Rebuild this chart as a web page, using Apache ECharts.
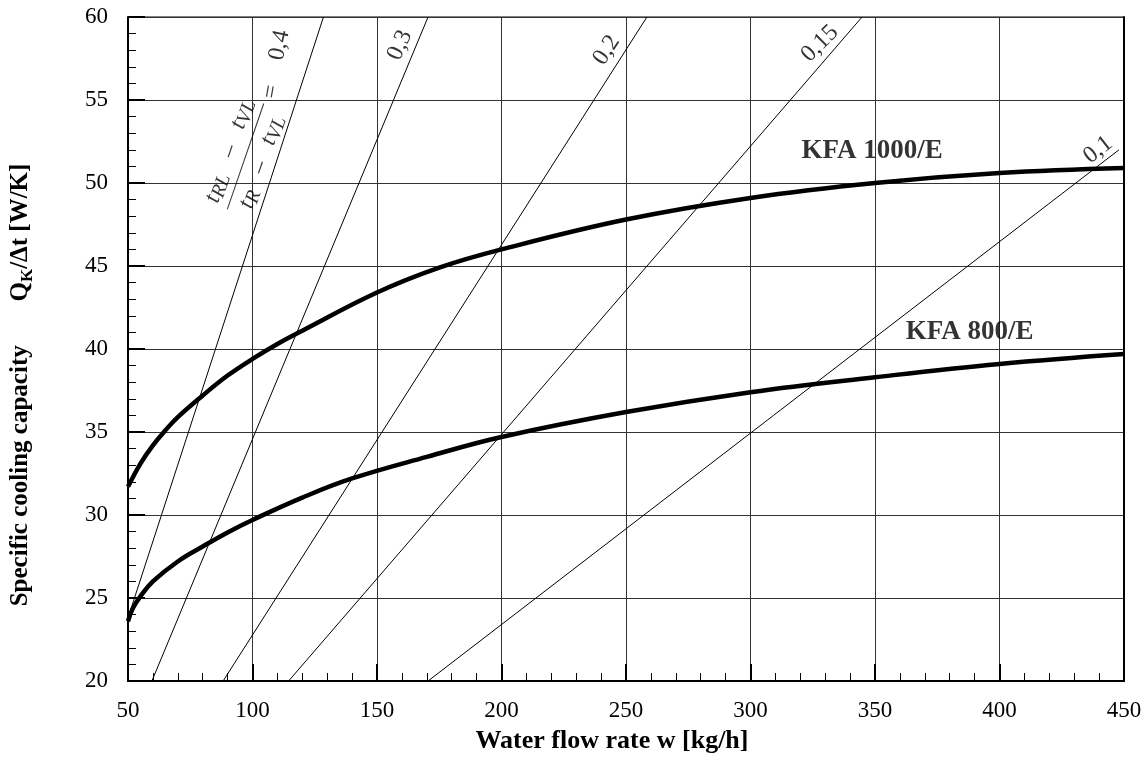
<!DOCTYPE html>
<html>
<head>
<meta charset="utf-8">
<script src="https://cdn.jsdelivr.net/npm/echarts@6/dist/echarts.min.js"></script>
<style>
html, body { margin: 0; padding: 0; background: #fff; }
#main { width: 1147px; height: 764px; }
</style>
</head>
<body>
<div id="main"></div>
<script>
// axis ticks
const xTicks = [50, 100, 150, 200, 250, 300, 350, 400, 450]
const yTicks = [20, 25, 30, 35, 40, 45, 50, 55, 60]

// KFA 1000/E, specific cooling capacity over water flow rate
const flow1000 = [50, 55, 60, 65, 70, 80, 90, 100, 110, 120, 150, 175, 200, 250, 300, 350, 400, 450]
const kfa1000 = [31.7, 33.1, 34.2, 35.1, 35.9, 37.2, 38.4, 39.4, 40.3, 41.1, 43.4, 44.9, 46.0, 47.8, 49.1, 50.0, 50.6, 50.9]

// KFA 800/E
const flow800 = [50, 52, 55, 60, 70, 80, 90, 100, 120, 140, 170, 200, 250, 300, 350, 400, 450]
const kfa800 = [23.6, 24.4, 25.1, 26.0, 27.2, 28.1, 28.95, 29.7, 31.05, 32.2, 33.5, 34.7, 36.2, 37.4, 38.3, 39.1, 39.7]

// (tRL - tVL)/(tR - tVL) lines, read where they enter and leave the plot
const ratioNames = ['0,4', '0,3', '0,2', '0,15', '0,1']
const ratioFrom = [[50, 23.8], [59.6, 20], [88.2, 20], [114.5, 20], [170.5, 20]]
const ratioTo = [[128.5, 60], [170.5, 60], [258.4, 60], [344.8, 60], [448, 52]]

const serif = 'Liberation Serif, Times New Roman, serif'

// where the texts sit, in data units, and how much they lean
const ratioLabelAt = [[110.8, 58.3], [159.2, 58.3], [242.2, 58.0], [327.9, 58.4], [439.6, 52.0]]
const ratioLabelTurn = [78, 66, 57, 45, 38]

const chart = echarts.init(document.getElementById('main'))

const lineSeries = ratioNames.map((name, i) => ({
  name: name,
  type: 'line',
  data: [ratioFrom[i], ratioTo[i]],
  symbol: 'none',
  silent: true,
  z: 3,
  lineStyle: { color: '#000', width: 1 }
}))

const curve = (xs, ys) => xs.map((x, i) => [x, ys[i]])

const textItem = (at, text, rotate, extra) => ({
  value: at,
  label: Object.assign({
    show: true,
    position: 'inside',
    formatter: text,
    rotate: rotate,
    color: '#000',
    fontFamily: serif,
    fontSize: 24
  }, extra || {})
})

const notes = ratioNames.map((n, i) => textItem(ratioLabelAt[i], n, ratioLabelTurn[i]))
notes.push(textItem([107.6, 55.5], '=', 80, { fontSize: 24 }))
notes.push(textItem([97.2, 51.6],
  '{t|t}{s|RL}{t|   \u2013   t}{s|VL}\n{bar| }\n{t|t}{s|R}{t|   \u2013   t}{s|VL}', 71, {
    rich: {
      t: { fontFamily: serif, fontStyle: 'italic', fontSize: 24, lineHeight: 28, verticalAlign: 'middle', color: '#000' },
      s: { fontFamily: serif, fontStyle: 'italic', fontSize: 20, lineHeight: 28, verticalAlign: 'bottom', color: '#000' },
      bar: { width: 112, height: 1, lineHeight: 6, backgroundColor: '#000' }
    }
  }))
notes.push(textItem([320.3 + 28.5, 51.9], 'KFA 1000/E', 0, { fontSize: 27, fontWeight: 'bold' }))
notes.push(textItem([362 + 26, 41.0], 'KFA 800/E', 0, { fontSize: 27, fontWeight: 'bold' }))

chart.setOption({
  animation: false,
  backgroundColor: '#fff',
  grid: {
    left: 128,
    right: 23,
    top: 17,
    bottom: 83,
    show: true,
    borderColor: '#000',
    borderWidth: 1
  },
  xAxis: {
    type: 'value',
    min: xTicks[0],
    max: xTicks[xTicks.length - 1],
    interval: xTicks[1] - xTicks[0],
    name: 'Water flow rate w [kg/h]',
    nameLocation: 'middle',
    nameGap: 47,
    nameTextStyle: { fontFamily: serif, fontSize: 26, fontWeight: 'bold', color: '#000', padding: [0, 28, 0, 0] },
    axisLine: { show: true, lineStyle: { color: '#000', width: 2 } },
    axisTick: { show: true, inside: true, length: 17, lineStyle: { color: '#000', width: 2 } },
    minorTick: { show: true, splitNumber: 5, length: 8, lineStyle: { color: '#000', width: 1 } },
    axisLabel: { margin: 18, fontFamily: serif, fontSize: 23, color: '#000' },
    splitLine: { show: true, lineStyle: { color: '#333', width: 1 } }
  },
  yAxis: [{
    type: 'value',
    min: yTicks[0],
    max: yTicks[yTicks.length - 1],
    interval: yTicks[1] - yTicks[0],
    name: '{b|Specific cooling capacity       Q}{k|K}{b|/\u0394t [W/K]}',
    nameLocation: 'middle',
    nameRotate: 90,
    nameGap: 92,
    nameTextStyle: {
      padding: [0, 72, 0, 0],
      rich: {
        b: { fontFamily: serif, fontSize: 25, fontWeight: 'bold', color: '#000', lineHeight: 30, verticalAlign: 'middle' },
        k: { fontFamily: serif, fontSize: 17, fontWeight: 'bold', color: '#000', lineHeight: 30, verticalAlign: 'bottom' }
      }
    },
    axisLine: { show: true, lineStyle: { color: '#000', width: 2 } },
    axisTick: { show: true, inside: true, length: 17, lineStyle: { color: '#000', width: 2 } },
    minorTick: { show: true, splitNumber: 5, length: 8, lineStyle: { color: '#000', width: 1 } },
    axisLabel: { margin: 20, fontFamily: serif, fontSize: 23, color: '#000' },
    splitLine: { show: true, lineStyle: { color: '#333', width: 1 } }
  }, {
    type: 'value',
    position: 'right',
    min: yTicks[0],
    max: yTicks[yTicks.length - 1],
    interval: yTicks[1] - yTicks[0],
    axisLine: { show: true, lineStyle: { color: '#000', width: 2 } },
    axisTick: { show: false },
    axisLabel: { show: false },
    splitLine: { show: false }
  }],
  series: lineSeries.concat([
    {
      name: 'KFA 1000/E',
      type: 'line',
      smooth: 0.4,
      symbol: 'none',
      z: 5,
      data: curve(flow1000, kfa1000),
      lineStyle: { color: '#000', width: 4.5 }
    },
    {
      name: 'KFA 800/E',
      type: 'line',
      smooth: 0.4,
      symbol: 'none',
      z: 5,
      data: curve(flow800, kfa800),
      lineStyle: { color: '#000', width: 4.5 }
    },
    {
      name: 'notes',
      type: 'scatter',
      symbolSize: 0,
      silent: true,
      z: 6,
      itemStyle: { color: 'transparent' },
      data: notes
    }
  ])
})
</script>
</body>
</html>
